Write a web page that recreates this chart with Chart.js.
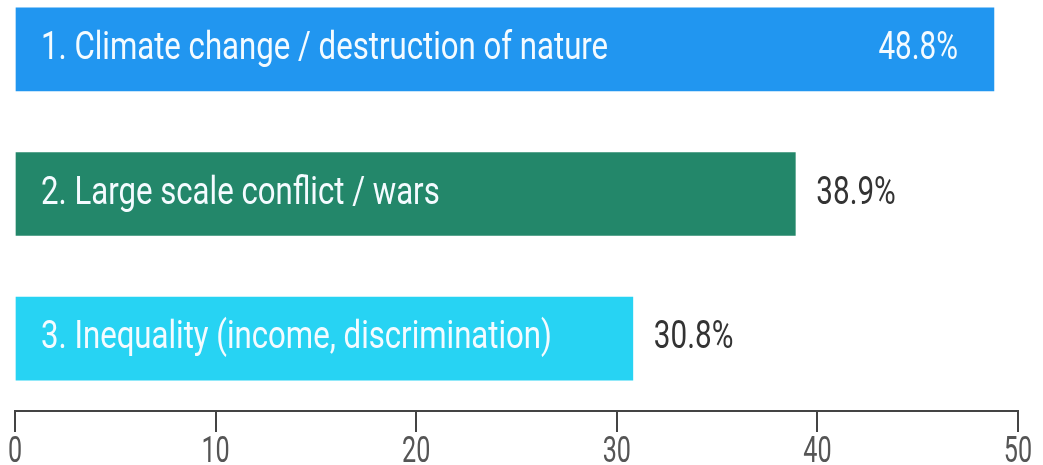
<!DOCTYPE html>
<html>
<head>
<meta charset="utf-8">
<script src="https://cdn.jsdelivr.net/npm/chart.js@4/dist/chart.umd.min.js"></script>
<style>
  body { margin: 0; background: #fff; overflow: hidden; }
  #wrap { position: absolute; left: 0; top: -23px; width: 1043px; height: 488px; }
</style>
</head>
<body>
<div id="wrap"><canvas id="chart"></canvas></div>
<script>
// data
const categories = ['1. Climate change / destruction of nature', '2. Large scale conflict / wars', '3. Inequality (income, discrimination)'];
const shares = [48.8, 38.9, 30.8];
const barColors = ['#2196f0', '#23876a', '#27d3f3'];
const axisTicks = [0, 10, 20, 30, 40, 50];

const FONT = 'Roboto, "Liberation Sans", sans-serif';

// draw text squeezed sideways (the picture uses a narrow face)
function narrowText(ctx, text, x, y, size, color, align, squeeze) {
  ctx.save();
  ctx.font = size + 'px ' + FONT;
  ctx.fillStyle = color;
  ctx.textBaseline = 'middle';
  ctx.textAlign = align;
  ctx.translate(x, y);
  ctx.scale(squeeze, 1);
  ctx.fillText(text, 0, 0);
  ctx.restore();
}

const labelPlugin = {
  id: 'barLabels',
  afterDatasetsDraw(chart) {
    const ctx = chart.ctx;
    const meta = chart.getDatasetMeta(0);
    meta.data.forEach((bar, i) => {
      narrowText(ctx, categories[i], bar.base + 25, bar.y, 38, '#f4fbff', 'left', 0.82);
      const txt = shares[i].toFixed(1) + '%';
      if (i === 0) {
        narrowText(ctx, txt, bar.x - 36, bar.y, 38, '#f4fbff', 'right', 0.78);
      } else {
        narrowText(ctx, txt, bar.x + 21, bar.y, 38, '#333', 'left', 0.78);
      }
    });
    // axis numbers
    const xs = chart.scales.x;
    axisTicks.forEach(v => {
      narrowText(ctx, String(v), xs.getPixelForValue(v), xs.bottom - 12, 36, '#555', 'center', 0.7);
    });
  }
};

new Chart(document.getElementById('chart'), {
  type: 'bar',
  data: {
    labels: categories,
    datasets: [{
      data: shares,
      backgroundColor: barColors,
      barThickness: 83
    }]
  },
  options: {
    indexAxis: 'y',
    responsive: true,
    maintainAspectRatio: false,
    animation: false,
    layout: { padding: { left: 15, right: 25, top: 0, bottom: 0 } },
    plugins: { legend: { display: false }, tooltip: { enabled: false } },
    scales: {
      x: {
        min: 0,
        max: 50,
        ticks: { display: false, stepSize: 10 },
        grid: { drawOnChartArea: false, drawTicks: true, tickLength: 21, color: '#444', lineWidth: 2 },
        border: { color: '#444', width: 2 },
        afterFit: s => { s.height = 54; }
      },
      y: { display: false }
    }
  },
  plugins: [labelPlugin]
});
</script>
</body>
</html>
